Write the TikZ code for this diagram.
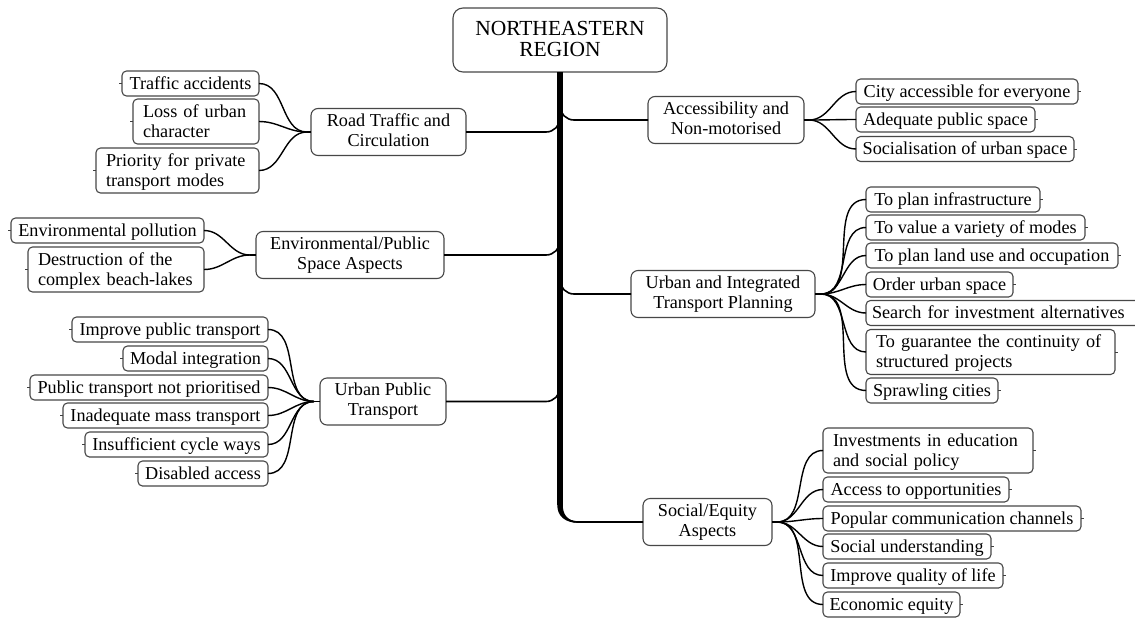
\documentclass[tikz,border=0pt]{standalone}
\usepackage{fontspec}
\setmainfont{Liberation Serif}
% struts giving every text line the same height and depth
\newcommand\lstrut{\rule[-4pt]{0pt}{19pt}}
\newcommand\ttopstrut{\rule{0pt}{22pt}}
\newcommand\tbotstrut{\rule[-2pt]{0pt}{2pt}}
\begin{document}
\begin{tikzpicture}[x=1pt,y=-1pt,
  every node/.style={font=\fontsize{18.2}{20}\selectfont, outer sep=0pt},
  box/.style={draw=black!72, line width=1.1pt, fill=white, inner ysep=3pt,
    execute at begin node=\lstrut, execute at end node=\lstrut},
  leaf/.style={box, rounded corners=4.5pt, inner xsep=4pt, minimum width=#1},
  leaft/.style={box, rounded corners=4.5pt, inner xsep=6pt, align=left, text width=#1},
  leafw/.style={box, rounded corners=4.5pt, inner xsep=10pt, align=left, text width=#1},
  topic/.style={box, rounded corners=7pt, inner xsep=4pt, align=center,
    minimum width=#1, minimum height=47pt},
  central/.style={draw=black!72, line width=1.1pt, fill=white, rounded corners=10pt,
    align=center, minimum width=214pt, minimum height=64pt, inner ysep=0pt,
    font=\fontsize{21.5}{21.5}\selectfont,
    execute at begin node=\ttopstrut, execute at end node=\tbotstrut},
  fan/.style={line width=1.4pt},
  branch/.style={line width=1.6pt, rounded corners=14pt},
  trunk/.style={line width=5.5pt},
  stub/.style={line width=1pt, black!75},
]
\useasboundingbox (0,0) rectangle (1135,619);

% ---------- central topic and main topics ----------
\node[central] (ne) at (560,40) {NORTHEASTERN\\REGION};

\node[topic=155pt] (road) at (388.5,132)  {Road Traffic and\\Circulation};
\node[topic=188pt] (env)  at (350,255)    {Environmental/Public\\Space Aspects};
\node[topic=126pt] (upt)  at (383,401.5)  {Urban Public\\Transport};
\node[topic=156pt] (acc)  at (726,120)    {Accessibility and\\Non-motorised};
\node[topic=184pt] (uit)  at (723,294)    {Urban and Integrated\\Transport Planning};
\node[topic=129pt] (soc)  at (707.5,522)  {Social/Equity\\Aspects};

% ---------- subtopics, left side ----------
\node[leaf=137pt, anchor=east] (ta) at (259,83.5) {Traffic accidents};
\node[leafw=106pt, anchor=east] (lu) at (259,121.5) {\mbox{Loss of urban}\\\mbox{character}};
\node[leafw=143pt, anchor=east] (pp) at (259,170.5) {\mbox{Priority for private}\\\mbox{transport modes}};

\node[leaf=193pt, anchor=east] (ep) at (204,230.5) {Environmental pollution};
\node[leafw=156pt, anchor=east] (db) at (204,269.5) {\mbox{Destruction of the}\\\mbox{complex beach-lakes}};

\node[leaf=196pt, anchor=east] (ip) at (268,329.5) {Improve public transport};
\node[leaf=145pt, anchor=east] (mi) at (268,358.5) {Modal integration};
\node[leaf=238pt, anchor=east] (pt) at (268,387.5) {Public transport not prioritised};
\node[leaf=205pt, anchor=east] (im) at (268,415.5) {Inadequate mass transport};
\node[leaf=183pt, anchor=east] (ic) at (268,444.5) {Insufficient cycle ways};
\node[leaf=130pt, anchor=east] (da) at (268,473.5) {Disabled access};

% ---------- subtopics, right side ----------
\node[leaf=222pt, anchor=west] (ca) at (856,91.5)  {City accessible for everyone};
\node[leaf=179pt, anchor=west] (ap) at (856,119.5) {Adequate public space};
\node[leaf=218pt, anchor=west] (su) at (856,149)   {Socialisation of urban space};

\node[leaf=174pt, anchor=west] (pi) at (866,199.5) {To plan infrastructure};
\node[leaf=219pt, anchor=west] (vm) at (866,227.5) {To value a variety of modes};
\node[leaf=252pt, anchor=west] (pl) at (866,255.5) {To plan land use and occupation};
\node[leaf=147pt, anchor=west] (ou) at (866,284.5) {Order urban space};
\node[leaft=263pt, anchor=west] (si) at (866,313) {\mbox{Search for investment alternatives}};
\node[leafw=229pt, anchor=west] (gc) at (866,352) {\mbox{To guarantee the continuity of}\\\mbox{structured projects}};
\node[leaf=132pt, anchor=west] (sc) at (866,390.5) {Sprawling cities};

\node[leafw=190pt, anchor=west] (ie) at (823,450.5) {\mbox{Investments in education}\\\mbox{and social policy}};
\node[leaf=186pt, anchor=west] (ao) at (823,489.5) {Access to opportunities};
\node[leaf=258pt, anchor=west] (pc) at (823,518.5) {Popular communication channels};
\node[leaf=168pt, anchor=west] (sn) at (823,546.5) {Social understanding};
\node[leaf=180pt, anchor=west] (iq) at (823,575.5) {Improve quality of life};
\node[leaf=137pt, anchor=west] (ee) at (823,604.5) {Economic equity};

% ---------- collapse stubs on the outer side of the subtopics ----------
\foreach \n in {ta,lu,pp,ep,db,ip,mi,pt,im,ic,da}
  \draw[stub] (\n.west) -- ++(-3,0);
\foreach \n in {ca,ap,su,pi,vm,pl,ou,gc,sc,ie,ao,pc,sn,iq,ee}
  \draw[stub] (\n.east) -- ++(3,0);

% ---------- fans from main topics to subtopics ----------
\coordinate (roadc) at ([xshift=-4pt]road.west);
\coordinate (envc)  at ([xshift=-6pt]env.west);
\coordinate (uptc)  at ([xshift=-6pt]upt.west);
\coordinate (accc)  at ([xshift=5pt]acc.east);
\coordinate (uitc)  at ([xshift=6pt]uit.east);
\coordinate (socc)  at ([xshift=5pt]soc.east);

\draw[fan] (road.west) -- (roadc);
\draw[fan] (env.west) -- (envc);
\draw[fan] (upt.west) -- (uptc);
\draw[fan] (acc.east) -- (accc);
\draw[fan] (uit.east) -- (uitc);
\draw[fan] (soc.east) -- (socc);

\foreach \n in {ta,lu,pp}   \draw[fan] (roadc) to[out=180,in=0] (\n.east);
\foreach \n in {ep,db}      \draw[fan] (envc) to[out=180,in=0] (\n.east);
\foreach \n in {ip,mi,pt,im,ic,da} \draw[fan] (uptc) to[out=180,in=0] (\n.east);
\foreach \n in {ca,ap,su}   \draw[fan] (accc) to[out=0,in=180] (\n.west);
\foreach \n in {pi,vm,pl,ou,si,gc,sc} \draw[fan] (uitc) to[out=0,in=180] (\n.west);
\foreach \n in {ie,ao,pc,sn,iq,ee} \draw[fan] (socc) to[out=0,in=180] (\n.west);

% ---------- trunk and branches to main topics ----------
\coordinate (troad) at (560,100);
\coordinate (tenv)  at (560,225);
\coordinate (tupt)  at (560,370);
\coordinate (tacc)  at (560,95);
\coordinate (tuit)  at (560,270);
\coordinate (tsoc)  at (560,480);
\coordinate (tend)  at (560,505);

\draw[branch] (road.east) -| (troad);
\draw[branch] (env.east)  -| (tenv);
\draw[branch] (upt.east)  -| (tupt);
\draw[branch] (tacc) |- (acc.west);
\draw[branch] (tuit) |- (uit.west);
\draw[branch, rounded corners=17pt] (tsoc) |- (soc.west);

\draw[trunk] (ne.south) -- (tend);
% tapering bend at the foot of the trunk
\fill (557.25,505) .. controls (557.25,516) and (565,522.8) .. (578,522.8)
  -- (578,521.2) .. controls (567,521.2) and (562.75,514) .. (562.75,505) -- cycle;
\end{tikzpicture}
\end{document}
